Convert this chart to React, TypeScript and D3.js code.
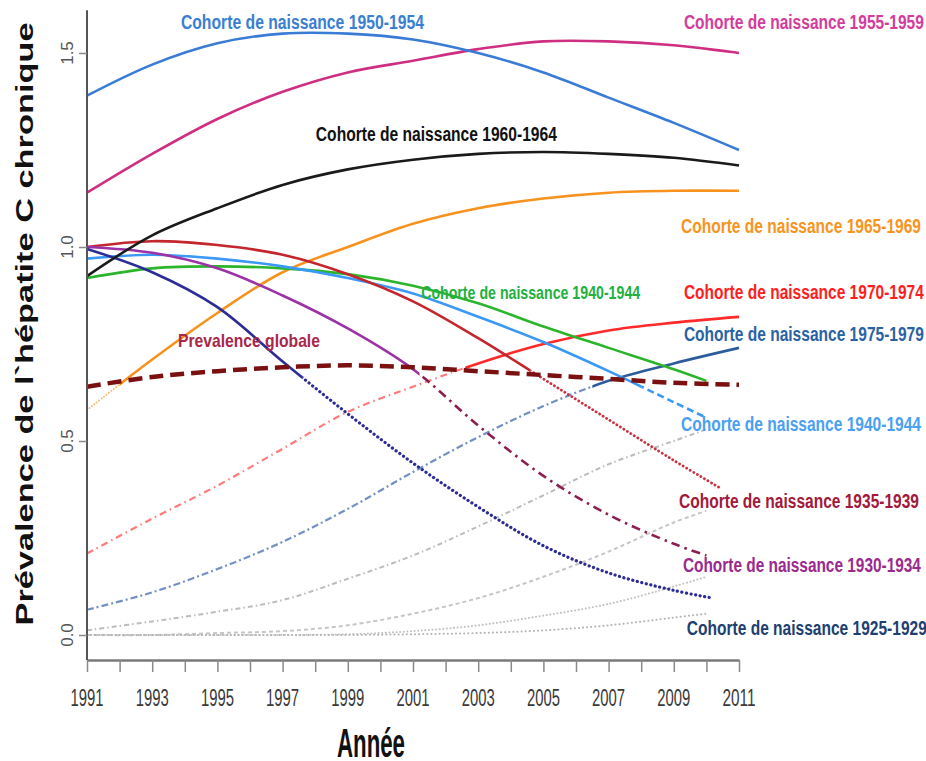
import React, { useEffect, useRef } from 'react';
import * as d3 from 'd3';

// ---- data ----
const yearsFull = [1991, 1993, 1995, 1997, 1999, 2001, 2003, 2005, 2007, 2009, 2011];
const yearsTo2010 = [1991, 1993, 1995, 1997, 1999, 2001, 2003, 2005, 2007, 2009, 2010];
const years3539 = [1991, 1993, 1995, 1997, 1999, 2001, 2003, 2005, 2007, 2009, 2010.4];
const years2529 = [1991, 1993, 1995, 1997, 1999, 2001, 2003, 2005, 2007, 2009, 2010.2];

const c1950 = [1.39, 1.47, 1.525, 1.55, 1.55, 1.535, 1.5, 1.45, 1.385, 1.32, 1.25];
const c1955 = [1.14, 1.24, 1.33, 1.4, 1.45, 1.48, 1.51, 1.53, 1.53, 1.52, 1.5];
const c1960 = [0.925, 1.03, 1.1, 1.16, 1.2, 1.225, 1.24, 1.245, 1.24, 1.23, 1.21];
const c1965 = [0.58, 0.71, 0.83, 0.935, 1.0, 1.06, 1.1, 1.125, 1.14, 1.145, 1.145];
const c1970 = [0.21, 0.3, 0.385, 0.48, 0.575, 0.64, 0.7, 0.75, 0.785, 0.805, 0.82];
const c1975 = [0.065, 0.11, 0.17, 0.24, 0.325, 0.42, 0.51, 0.59, 0.655, 0.7, 0.74];
const c1940green = [0.92, 0.945, 0.95, 0.945, 0.93, 0.9, 0.855, 0.795, 0.74, 0.685, 0.655];
const c1940blue = [0.97, 0.98, 0.97, 0.95, 0.92, 0.88, 0.82, 0.755, 0.68, 0.6, 0.56];
const c1935 = [1.0, 1.015, 1.005, 0.98, 0.93, 0.86, 0.765, 0.66, 0.555, 0.45, 0.38];
const c1930 = [1.0, 0.985, 0.945, 0.875, 0.79, 0.685, 0.54, 0.41, 0.31, 0.235, 0.205];
const c1925 = [0.995, 0.935, 0.845, 0.705, 0.57, 0.443, 0.33, 0.23, 0.16, 0.115, 0.095];
const prevalence = [0.64, 0.665, 0.68, 0.69, 0.695, 0.69, 0.68, 0.67, 0.66, 0.65, 0.645];
const greyA = [0.012, 0.035, 0.06, 0.09, 0.145, 0.205, 0.28, 0.36, 0.44, 0.5, 0.53];
const greyB = [0.0, 0.0, 0.005, 0.01, 0.025, 0.055, 0.095, 0.15, 0.215, 0.29, 0.32];
const greyC = [0.0, 0.0, 0.0, 0.0, 0.002, 0.01, 0.025, 0.05, 0.08, 0.125, 0.15];
const greyD = [0.0, 0.0, 0.0, 0.0, 0.0, 0.002, 0.005, 0.012, 0.025, 0.045, 0.055];

const xTicks = [1991, 1992, 1993, 1994, 1995, 1996, 1997, 1998, 1999, 2000, 2001,
  2002, 2003, 2004, 2005, 2006, 2007, 2008, 2009, 2010, 2011];
const xLabels = [1991, 1993, 1995, 1997, 1999, 2001, 2003, 2005, 2007, 2009, 2011];
const yTicks = [0, 0.5, 1.0, 1.5];

// annotations anchored in data units (left edge year, centre value)
const labelTexts = [
  'Cohorte de naissance 1950-1954',
  'Cohorte de naissance 1955-1959',
  'Cohorte de naissance 1960-1964',
  'Cohorte de naissance 1965-1969',
  'Cohorte de naissance 1970-1974',
  'Cohorte de naissance 1975-1979',
  'Cohorte de naissance 1940-1944',
  'Cohorte de naissance 1940-1944',
  'Cohorte de naissance 1935-1939',
  'Cohorte de naissance 1930-1934',
  'Cohorte de naissance 1925-1929',
  'Prevalence globale',
];
const labelYears = [1993.88, 2009.31, 1998.02, 2009.22, 2009.31, 2009.31, 2001.25, 2009.22, 2009.16, 2009.28, 2009.4, 1993.79];
const labelValues = [1.58, 1.58, 1.291, 1.054, 0.884, 0.776, 0.884, 0.544, 0.345, 0.18, 0.018, 0.76];

// styles for the annotations
const labelColors = ['#3a7fd2', '#d43c9c', '#111111', '#f7941d', '#ff1e1e', '#2a62a6', '#22b040',
  '#4aa0f2', '#a3193c', '#9a2a8e', '#1d4070', '#a8284a'];
const labelWidths = [243, 240, 241, 240, 240, 240, 219, 240, 240, 238, 240, 142];
const labelSizes = [20, 20, 20, 20, 20, 20, 19, 20, 20, 20, 20, 19];

type Series = {
  years: number[];
  values: number[];
  color: string;
  width: number;
  dash?: string;
  round?: boolean;
  split?: number;            // year where the style changes
  projSide?: 'before' | 'after';
  projColor?: string;
  projDash?: string;
  projWidth?: number;
  projRound?: boolean;
};

const greySeries: Series[] = [
  { years: yearsTo2010, values: greyA, color: '#bcbcbc', width: 2, dash: '5,3,1.5,3' },
  { years: yearsTo2010, values: greyB, color: '#c6c6c6', width: 2, dash: '4,3' },
  { years: yearsTo2010, values: greyC, color: '#c2c2c2', width: 2, dash: '0.1,3.5', round: true },
  { years: yearsTo2010, values: greyD, color: '#b4b4b4', width: 2, dash: '0.1,4', round: true },
];

const cohortSeries: Series[] = [
  { years: yearsFull, values: c1965, color: '#f7921e', width: 2.6, split: 1992, projSide: 'before', projColor: '#fbb26a', projDash: '0.1,3', projWidth: 1.8, projRound: true },
  { years: yearsFull, values: c1970, color: '#ff2a2a', width: 2.6, split: 2002.6, projSide: 'before', projColor: '#ff7a7a', projDash: '7,4,1.5,4', projWidth: 2.2 },
  { years: yearsFull, values: c1975, color: '#2b5c9c', width: 2.6, split: 2006.5, projSide: 'before', projColor: '#7390c4', projDash: '7,3,2,3', projWidth: 2.2 },
  { years: yearsTo2010, values: c1940green, color: '#2cb52c', width: 2.6 },
  { years: yearsTo2010, values: c1940blue, color: '#3b99f5', width: 2.6, split: 2008, projSide: 'after', projColor: '#3b99f5', projDash: '7,4', projWidth: 2.6 },
  { years: years3539, values: c1935, color: '#c4262e', width: 2.6, split: 2004.6, projSide: 'after', projColor: '#cc3040', projDash: '0.1,4', projWidth: 2.8, projRound: true },
  { years: yearsTo2010, values: c1930, color: '#9b32a6', width: 2.6, split: 2001.2, projSide: 'after', projColor: '#8b2050', projDash: '9,5,2.5,5', projWidth: 2.6 },
  { years: years2529, values: c1925, color: '#2c2c96', width: 2.6, split: 1997.6, projSide: 'after', projColor: '#2c2c96', projDash: '0.1,4.5', projWidth: 3.2, projRound: true },
  { years: yearsFull, values: c1960, color: '#1a1a1a', width: 2.6 },
  { years: yearsFull, values: c1955, color: '#cf2f82', width: 2.6 },
  { years: yearsFull, values: c1950, color: '#3a7bd5', width: 2.6 },
];

const prevalenceSeries: Series = { years: yearsFull, values: prevalence, color: '#7a1010', width: 4.5, dash: '14,7' };

const W = 926;
const H = 761;

export default function App() {
  const svgRef = useRef<SVGSVGElement>(null);

  useEffect(() => {
    const svg = d3.select(svgRef.current);
    svg.selectAll('*').remove();

    const x = d3.scaleLinear().domain([1991, 2011]).range([87, 739]);
    const y = d3.scaleLinear().domain([0, 1.5]).range([635, 53]);
    const axisY = y(-0.0644); // where the x axis sits

    const defs = svg.append('defs');
    const plot = svg.append('g');

    const lineFor = (s: Series) =>
      d3.line<number>()
        .x((_, i) => x(s.years[i]))
        .y(d => y(d))
        .curve(d3.curveCatmullRom.alpha(0.5))(s.values);

    const drawPath = (g: any, s: Series, color: string, width: number, dash?: string, round?: boolean, clip?: string) => {
      const p = g.append('path')
        .attr('d', lineFor(s))
        .attr('fill', 'none')
        .attr('stroke', color)
        .attr('stroke-width', width)
        .attr('stroke-linecap', round ? 'round' : 'butt')
        .attr('stroke-linejoin', 'round');
      if (dash) p.attr('stroke-dasharray', dash);
      if (clip) p.attr('clip-path', `url(#${clip})`);
    };

    // grey projected cohorts
    greySeries.forEach(s => drawPath(plot, s, s.color, s.width, s.dash, s.round));

    // projected parts first, then observed (solid) parts
    cohortSeries.forEach((s, i) => {
      if (s.split == null) return;
      const sx = x(s.split);
      const projId = `proj-${i}`;
      const solidId = `solid-${i}`;
      const before = s.projSide === 'before';
      defs.append('clipPath').attr('id', projId).append('rect')
        .attr('x', before ? 0 : sx).attr('y', 0)
        .attr('width', before ? sx : W - sx).attr('height', H);
      defs.append('clipPath').attr('id', solidId).append('rect')
        .attr('x', before ? sx : 0).attr('y', 0)
        .attr('width', before ? W - sx : sx).attr('height', H);
      drawPath(plot, s, s.projColor!, s.projWidth!, s.projDash, s.projRound, projId);
    });

    cohortSeries.forEach((s, i) => {
      drawPath(plot, s, s.color, s.width, undefined, false, s.split == null ? undefined : `solid-${i}`);
    });

    drawPath(plot, prevalenceSeries, prevalenceSeries.color, prevalenceSeries.width, prevalenceSeries.dash);

    // x axis
    const xAxis = d3.axisBottom(x)
      .tickValues(xTicks)
      .tickSize(12)
      .tickSizeOuter(0)
      .tickFormat(() => '');
    const gx = svg.append('g').attr('transform', `translate(0,${axisY})`).call(xAxis);
    gx.select('.domain').attr('stroke', '#7a7a7a').attr('stroke-width', 2.5);
    gx.selectAll('.tick line').attr('stroke', '#8a8a8a').attr('stroke-width', 1.5);

    svg.append('g').selectAll('text')
      .data(xLabels)
      .enter()
      .append('text')
      .attr('x', d => x(d))
      .attr('y', 706)
      .attr('text-anchor', 'middle')
      .attr('font-family', 'Liberation Sans, Arial, sans-serif')
      .attr('font-size', 24)
      .attr('textLength', 33)
      .attr('lengthAdjust', 'spacingAndGlyphs')
      .attr('fill', '#3a3a3a')
      .text(d => String(d));

    // y axis
    svg.append('line')
      .attr('x1', x(1991)).attr('x2', x(1991))
      .attr('y1', y(1.61)).attr('y2', axisY)
      .attr('stroke', '#555').attr('stroke-width', 2);

    const yAxis = d3.axisLeft(y).tickValues(yTicks).tickSize(8).tickFormat(() => '');
    const gy = svg.append('g').attr('transform', `translate(${x(1991)},0)`).call(yAxis);
    gy.select('.domain').remove();
    gy.selectAll('.tick line').attr('stroke', '#888').attr('stroke-width', 1.5);

    svg.append('g').selectAll('text')
      .data(yTicks)
      .enter()
      .append('text')
      .attr('transform', d => `translate(73,${y(d)}) rotate(-90)`)
      .attr('text-anchor', 'middle')
      .attr('font-family', 'Liberation Sans, Arial, sans-serif')
      .attr('font-size', 17)
      .attr('fill', '#555')
      .text(d => d.toFixed(1));

    // axis titles
    svg.append('text')
      .attr('transform', 'translate(33,324) rotate(-90)')
      .attr('text-anchor', 'middle')
      .attr('font-family', 'Liberation Sans, Arial, sans-serif')
      .attr('font-weight', 'bold')
      .attr('font-size', 23)
      .attr('textLength', 603)
      .attr('lengthAdjust', 'spacingAndGlyphs')
      .attr('fill', '#111')
      .text('Prévalence de l`hépatite C chronique');

    svg.append('text')
      .attr('x', 371)
      .attr('y', 757)
      .attr('text-anchor', 'middle')
      .attr('font-family', 'Liberation Sans, Arial, sans-serif')
      .attr('font-weight', 'bold')
      .attr('font-size', 40)
      .attr('textLength', 68)
      .attr('lengthAdjust', 'spacingAndGlyphs')
      .attr('fill', '#111')
      .text('Année');

    // cohort annotations
    svg.append('g').selectAll('text')
      .data(labelTexts)
      .enter()
      .append('text')
      .attr('x', (_, i) => x(labelYears[i]))
      .attr('y', (_, i) => y(labelValues[i]))
      .attr('dy', '0.36em')
      .attr('font-family', 'Liberation Sans, Arial, sans-serif')
      .attr('font-weight', 'bold')
      .attr('font-size', (_, i) => labelSizes[i])
      .attr('textLength', (_, i) => labelWidths[i])
      .attr('lengthAdjust', 'spacingAndGlyphs')
      .attr('fill', (_, i) => labelColors[i])
      .text(d => d);
  }, []);

  return (
    <div style={{ position: 'absolute', left: 0, top: 0, background: '#fff' }}>
      <svg ref={svgRef} width={W} height={H} style={{ display: 'block' }} />
    </div>
  );
}
